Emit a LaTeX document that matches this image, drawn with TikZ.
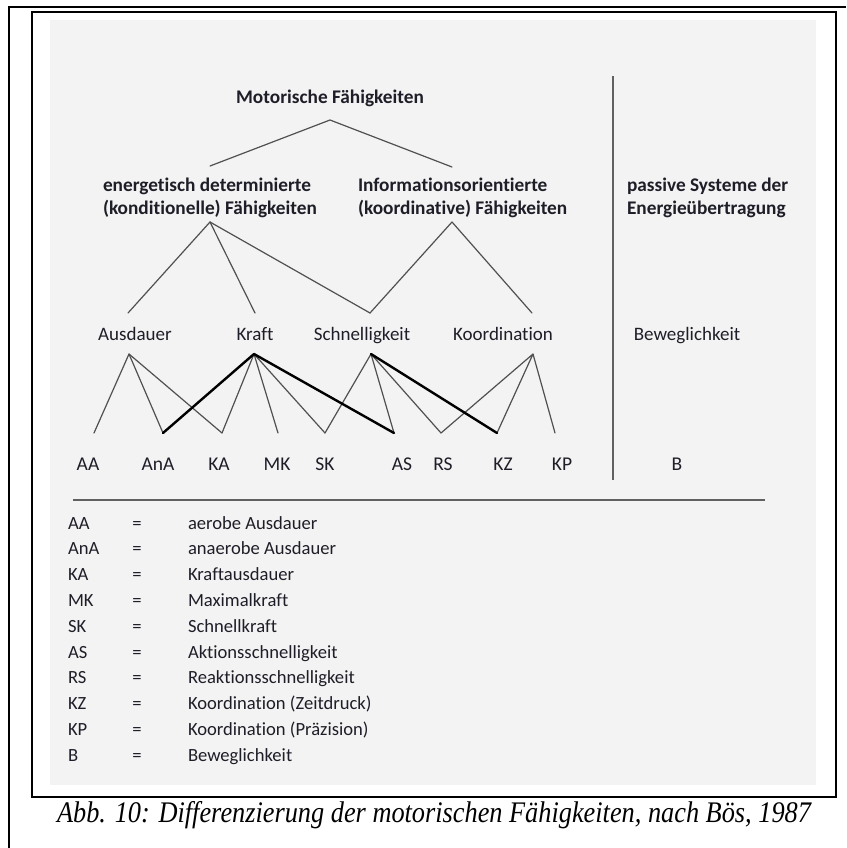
\documentclass[tikz,border=0pt]{standalone}
\usepackage{fontspec}
\newfontfamily\labfont[Ligatures={NoCommon}]{Carlito}
\newfontfamily\capfont[FakeStretch=0.88]{Liberation Serif}
\definecolor{bggray}{HTML}{F3F3F3}
\definecolor{ink}{HTML}{1E1E28}
\definecolor{thinline}{HTML}{505050}
\definecolor{sepline}{HTML}{606060}
\tikzset{
  every node/.style={inner sep=0pt, outer sep=0pt, text=ink},
  hlab/.style={font=\labfont\bfseries\fontsize{19.3}{23}\selectfont, anchor=base},
  lab/.style={font=\labfont\fontsize{19}{23}\selectfont, anchor=base},
  abbr/.style={font=\labfont\fontsize{19.5}{23}\selectfont, anchor=base},
  leg/.style={font=\labfont\fontsize{18.6}{22}\selectfont, anchor=base west},
  capstyle/.style={font=\capfont\itshape\fontsize{29.9}{34}\selectfont, anchor=base, text=black},
  conn/.style={draw=thinline, line width=1.2pt, line cap=round, line join=round},
  boldconn/.style={draw=black, line width=2.4pt, line cap=round, line join=round},
  frame/.style={draw=black, line width=1.5pt},
  divider/.style={draw=sepline, line width=2pt},
}
\begin{document}
\begin{tikzpicture}[x=1pt, y=-1pt]
\useasboundingbox (0,0) rectangle (846,848);
% backgrounds and frames
\fill[bggray] (50,20) rectangle (816,785);
\draw[frame] (9,848) -- (9,7) -- (846,7);
\draw[frame] (32,12) rectangle (836,797);

% top
\node[hlab] (mot) at (330,104) {Motorische Fähigkeiten};
\node[hlab, anchor=base west] (ener1) at (103,191) {energetisch determinierte};
\node[hlab, anchor=base west] (ener2) at (103,214) {(konditionelle) Fähigkeiten};
\node[hlab, anchor=base west] (info1) at (358,191) {Informationsorientierte};
\node[hlab, anchor=base west] (info2) at (358,214) {(koordinative) Fähigkeiten};
\node[hlab, anchor=base west] (pass1) at (627,191) {passive Systeme der};
\node[hlab, anchor=base west] (pass2) at (627,214) {Energieübertragung};

% level 3
\node[lab] (ausd) at (135,340) {Ausdauer};
\node[lab] (kraft) at (255,340) {Kraft};
\node[lab] (schn) at (362,340) {Schnelligkeit};
\node[lab] (koor) at (503,340) {Koordination};
\node[lab] (bew) at (687,340) {Beweglichkeit};

% abbreviations
\node[abbr] (aa) at (88,470) {AA};
\node[abbr] (ana) at (158,470) {AnA};
\node[abbr] (ka) at (219,470) {KA};
\node[abbr] (mk) at (277,470) {MK};
\node[abbr] (sk) at (325,470) {SK};
\node[abbr] (as) at (402,470) {AS};
\node[abbr] (rs) at (443,470) {RS};
\node[abbr] (kz) at (503,470) {KZ};
\node[abbr] (kp) at (562,470) {KP};
\node[abbr] (b) at (677,470) {B};

% connector end points
\coordinate (mot-s) at (330,120);
\coordinate (ener-n) at (210,166);
\coordinate (ener-s) at (210,222);
\coordinate (info-n) at (452,167);
\coordinate (info-s) at (452,222);
\coordinate (ausd-n) at (128,313);
\coordinate (ausd-s) at (129,354);
\coordinate (kraft-n) at (255,313);
\coordinate (kraft-s) at (254,354);
\coordinate (schn-n) at (370,313);
\coordinate (schn-s) at (371,354);
\coordinate (koor-n) at (532,313);
\coordinate (koor-s) at (533,354);
\coordinate (aa-n) at (94,433);
\coordinate (ana-n) at (163,433);
\coordinate (ka-n) at (222,433);
\coordinate (mk-n) at (278,433);
\coordinate (sk-n) at (325,433);
\coordinate (as-n) at (394,433);
\coordinate (rs-n) at (441,433);
\coordinate (kz-n) at (497,433);
\coordinate (kp-n) at (555,433);
\coordinate (div-top) at (613,76);
\coordinate (div-bot) at (613,480);
\coordinate (sep-l) at (73,500);
\coordinate (sep-r) at (765,500);

% connectors
\draw[conn] (ener-n) -- (mot-s) -- (info-n);
\draw[conn] (ausd-n) -- (ener-s) -- (kraft-n);
\draw[conn] (ener-s) -- (schn-n);
\draw[conn] (schn-n) -- (info-s) -- (koor-n);
\draw[conn] (aa-n) -- (ausd-s) -- (ana-n);
\draw[conn] (ausd-s) -- (ka-n);
\draw[conn] (ka-n) -- (kraft-s) -- (mk-n);
\draw[conn] (kraft-s) -- (sk-n);
\draw[conn] (sk-n) -- (schn-s) -- (as-n);
\draw[conn] (schn-s) -- (rs-n);
\draw[conn] (rs-n) -- (koor-s) -- (kz-n);
\draw[conn] (koor-s) -- (kp-n);
\draw[boldconn] (ana-n) -- (kraft-s) -- (as-n);
\draw[boldconn] (schn-s) -- (kz-n);

% dividers
\draw[divider] (div-top) -- (div-bot);
\draw[divider, line width=2.5pt] (sep-l) -- (sep-r);

% legend
\foreach \i/\ab/\de in {0/AA/aerobe Ausdauer, 1/AnA/anaerobe Ausdauer, 2/KA/Kraftausdauer, 3/MK/Maximalkraft, 4/SK/Schnellkraft, 5/AS/Aktionsschnelligkeit, 6/RS/Reaktionsschnelligkeit, 7/KZ/Koordination (Zeitdruck), 8/KP/Koordination (Präzision), 9/B/Beweglichkeit}{
  \node[leg] (leg-a-\i) at (68,529+25.8*\i) {\ab};
  \node[leg, anchor=base] (leg-e-\i) at (137,529+25.8*\i) {=};
  \node[leg] (leg-d-\i) at (188,529+25.8*\i) {\de};
}

% caption
\node[capstyle] (cap) at (434,822) {Abb. 10: Differenzierung der motorischen Fähigkeiten, nach Bös, 1987};
\end{tikzpicture}
\end{document}
